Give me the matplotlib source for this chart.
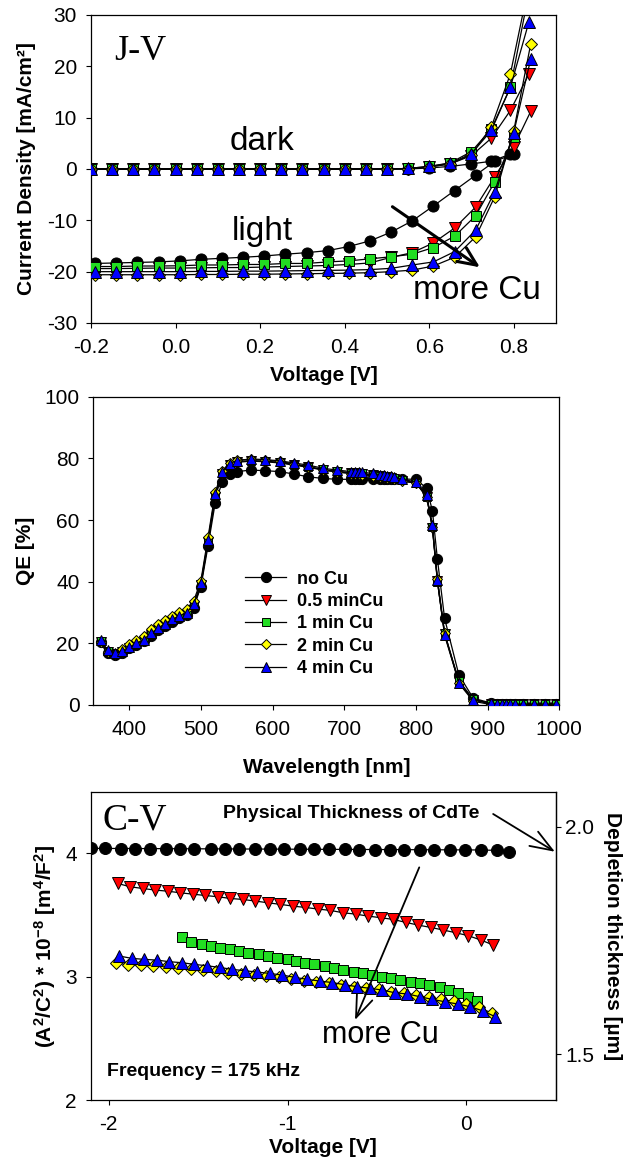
import numpy as np
import matplotlib
matplotlib.use('Agg')
import matplotlib.pyplot as plt

plt.rcParams['font.family'] = ['Liberation Sans', 'DejaVu Sans']
plt.rcParams['mathtext.fontset'] = 'custom'
plt.rcParams['mathtext.rm'] = 'Liberation Sans'
plt.rcParams['mathtext.bf'] = 'Liberation Sans:bold'
plt.rcParams['mathtext.it'] = 'Liberation Sans:italic'
plt.rcParams['axes.unicode_minus'] = False
plt.rcParams['axes.linewidth'] = 0.9

# sample series: no Cu, 0.5, 1, 2, 4 min Cu
labels = ['no Cu', '0.5 minCu', '1 min Cu', '2 min Cu', '4 min Cu']
markers = ['o', 'v', 's', 'D', '^']
colors = ['black', '#FF0000', '#22DD22', '#FFFF00', '#0000FF']
msizes = [8.0, 8.2, 6.7, 6.0, 8.2]

# ---- J-V data (dark and illuminated) ----
v_dark = [-0.20, -0.15, -0.10, -0.05, 0.00, 0.05, 0.10, 0.15, 0.20, 0.25, 0.30,
          0.35, 0.40, 0.45, 0.50, 0.55, 0.60, 0.65, 0.70, 0.747, 0.792, 0.836]
j_dark = [
    [0, 0, 0, 0, 0, 0, 0, 0, 0, 0, 0, 0, 0, 0, 0, 0, 0.2, 0.5, 1.0, 1.5, 2.9],
    [0, 0, 0, 0, 0, 0, 0, 0, 0, 0, 0, 0, 0, 0, 0, 0.05, 0.4, 1.0, 2.6, 6.0, 11.4, 18.5],
    [0, 0, 0, 0, 0, 0, 0, 0, 0, 0, 0, 0, 0, 0, 0, 0.1, 0.5, 1.2, 3.4, 7.8, 15.9, 34.4],
    [0, 0, 0, 0, 0, 0, 0, 0, 0, 0, 0, 0, 0, 0, 0, 0.05, 0.4, 1.0, 2.8, 8.2, 18.5, 36.0],
    [0, 0, 0, 0, 0, 0, 0, 0, 0, 0, 0, 0, 0, 0, 0, 0.1, 0.5, 1.1, 3.0, 7.5, 15.9, 28.7],
]
v_light = [-0.19, -0.14, -0.09, -0.04, 0.01, 0.06, 0.11, 0.16, 0.21, 0.26, 0.31,
           0.36, 0.41, 0.46, 0.51, 0.56, 0.61, 0.66, 0.71, 0.755, 0.80, 0.84]
j_light = [
    [-18.4, -18.3, -18.2, -18.1, -17.9, -17.6, -17.4, -17.2, -16.95, -16.6, -16.3,
     -15.9, -15.1, -14.0, -12.3, -10.1, -7.2, -4.2, -1.2, 1.5, 2.9],
    [-19.4, -19.4, -19.35, -19.3, -19.3, -19.25, -19.2, -19.2, -19.1, -19.0, -18.9,
     -18.8, -18.6, -18.3, -17.2, -16.3, -14.4, -11.5, -7.4, -1.5, 4.35, 11.2],
    [-19.0, -19.0, -18.9, -18.9, -18.85, -18.7, -18.7, -18.6, -18.6, -18.4, -18.4,
     -18.1, -17.9, -17.5, -17.1, -16.6, -15.3, -13.1, -9.1, -2.5, 6.3],
    [-20.6, -20.6, -20.6, -20.6, -20.6, -20.55, -20.55, -20.5, -20.5, -20.45, -20.4,
     -20.35, -20.3, -20.2, -20.0, -19.7, -18.9, -17.2, -13.2, -5.4, 7.46, 24.3],
    [-20.0, -20.0, -20.0, -20.0, -20.0, -19.95, -19.95, -19.9, -19.9, -19.85, -19.8,
     -19.75, -19.7, -19.6, -19.35, -18.7, -18.1, -16.1, -11.9, -4.4, 7.07, 21.4],
]

# ---- QE data ----
wavelength = [360, 370, 380, 390, 400, 410, 420, 430, 440, 450, 460, 470, 480, 490,
              500, 510, 520, 530, 540, 550, 570, 590, 610, 630, 650, 670, 690, 710,
              715, 720, 725, 740, 750, 755, 760, 765, 770, 780, 800, 815, 823, 830,
              840, 860, 880, 905, 913, 920, 926, 931, 938, 950, 965, 980, 995]
qe = [
    [20.3, 17.0, 16.2, 17.0, 18.4, 19.5, 20.6, 22.5, 24.2, 25.7, 27.0, 28.1, 29.1, 31.6,
     38.4, 51.6, 65.6, 72.4, 74.9, 75.7, 76.2, 76.0, 75.7, 74.9, 74.0, 73.5, 73.2, 73.2,
     73.2, 73.2, 73.2, 73.3, 73.4, 73.4, 73.4, 73.4, 73.4, 73.3, 73.2, 70.3, 63.0, 47.3,
     28.1, 9.7, 2.2, 0.6, 0.4, 0.3, 0.3, 0.3, 0.3, 0.3, 0.3, 0.3, 0.3],
    [20.4, 17.3, 16.5, 17.2, 18.5, 19.6, 20.8, 22.7, 24.4, 25.9, 27.3, 28.4, 29.4, 32.0,
     39.0, 52.8, 67.5, 75.0, 77.7, 78.7, 79.1, 78.9, 78.5, 77.8, 77.1, 76.2, 75.6, 75.2,
     75.1, 75.0, 74.9, 74.5, 74.2, 74.0, 73.8, 73.6, 73.3, 72.7, 72.0, 67.5, 57.4, 40.2,
     23.0, 7.5, 1.7, 0.3, 0.2, 0.2, 0.2, 0.2, 0.2, 0.2, 0.2, 0.2, 0.2],
    [20.6, 17.4, 16.6, 17.4, 18.7, 19.9, 21.0, 23.0, 24.7, 26.2, 27.6, 28.7, 29.7, 32.3,
     39.3, 53.0, 67.8, 75.2, 77.9, 78.9, 79.3, 79.1, 78.7, 78.0, 77.3, 76.4, 75.8, 75.4,
     75.3, 75.2, 75.1, 74.7, 74.4, 74.2, 74.0, 73.8, 73.5, 72.9, 72.1, 67.6, 57.6, 40.0,
     23.2, 7.8, 1.9, 0.4, 0.3, 0.2, 0.2, 0.2, 0.2, 0.2, 0.2, 0.2, 0.2],
    [20.5, 17.2, 16.5, 18.0, 19.8, 21.0, 22.5, 24.5, 26.2, 27.6, 29.0, 30.2, 31.2, 33.8,
     40.3, 54.5, 69.0, 76.0, 78.6, 79.4, 79.7, 79.4, 79.0, 78.2, 77.3, 76.3, 75.6, 75.0,
     74.9, 74.8, 74.6, 74.4, 74.1, 73.9, 73.7, 73.5, 73.2, 72.6, 72.0, 67.6, 57.8, 41.0,
     23.5, 7.0, 1.2, 0.1, -0.3, -0.3, -0.3, -0.3, -0.3, -0.3, -0.3, -0.3, -0.3],
    [21.0, 17.8, 16.8, 17.5, 18.8, 20.0, 21.2, 23.2, 24.9, 26.4, 27.8, 28.9, 29.9, 32.6,
     39.7, 53.5, 68.3, 75.6, 78.3, 79.3, 79.8, 79.6, 79.2, 78.5, 77.8, 76.8, 76.2, 75.7,
     75.7, 75.6, 75.5, 75.1, 74.7, 74.5, 74.3, 74.2, 73.9, 73.2, 72.4, 68.1, 58.3, 40.5,
     22.6, 7.2, 1.6, 0.5, 0.4, 0.3, 0.3, 0.3, 0.3, 0.3, 0.3, 0.3, 0.3],
]

# ---- C-V data, A^2/C^2 in 1e8 m^4/F^2 ----
cv_v = [
    [-2.10, -2.02, -1.93, -1.85, -1.77, -1.68, -1.60, -1.52, -1.43, -1.35, -1.27, -1.18,
     -1.10, -1.02, -0.93, -0.85, -0.77, -0.68, -0.60, -0.51, -0.43, -0.35, -0.26, -0.18,
     -0.09, -0.01, 0.08, 0.17, 0.24],
    [-1.95, -1.88, -1.81, -1.74, -1.67, -1.60, -1.53, -1.46, -1.39, -1.32, -1.25, -1.18,
     -1.11, -1.04, -0.97, -0.90, -0.83, -0.76, -0.69, -0.62, -0.55, -0.48, -0.41, -0.34,
     -0.27, -0.20, -0.13, -0.06, 0.01, 0.08, 0.15],
    [-1.59, -1.54, -1.48, -1.43, -1.38, -1.32, -1.27, -1.22, -1.16, -1.11, -1.06, -1.00,
     -0.95, -0.90, -0.85, -0.79, -0.74, -0.69, -0.63, -0.58, -0.53, -0.47, -0.42, -0.37,
     -0.31, -0.26, -0.21, -0.15, -0.10, -0.05, 0.01, 0.06],
    [-1.96, -1.89, -1.82, -1.75, -1.68, -1.61, -1.54, -1.47, -1.40, -1.33, -1.26, -1.19,
     -1.12, -1.05, -0.98, -0.91, -0.84, -0.77, -0.70, -0.63, -0.56, -0.49, -0.42, -0.35,
     -0.28, -0.21, -0.14, -0.07, 0.00, 0.07, 0.14],
    [-1.94, -1.87, -1.80, -1.73, -1.66, -1.59, -1.52, -1.45, -1.38, -1.31, -1.24, -1.17,
     -1.10, -1.03, -0.96, -0.89, -0.82, -0.75, -0.68, -0.61, -0.54, -0.47, -0.40, -0.33,
     -0.26, -0.19, -0.12, -0.05, 0.02, 0.09, 0.16],
]
cv_y = [
    [4.041, 4.041, 4.040, 4.040, 4.039, 4.039, 4.038, 4.038, 4.037, 4.037, 4.036, 4.036,
     4.035, 4.035, 4.034, 4.034, 4.033, 4.033, 4.032, 4.032, 4.031, 4.031, 4.030, 4.030,
     4.029, 4.029, 4.028, 4.025, 4.014],
    [3.757, 3.730, 3.716, 3.703, 3.694, 3.681, 3.670, 3.659, 3.649, 3.635, 3.627, 3.614,
     3.600, 3.587, 3.573, 3.562, 3.549, 3.538, 3.519, 3.508, 3.492, 3.479, 3.465, 3.441,
     3.419, 3.400, 3.379, 3.357, 3.333, 3.298, 3.257],
    [3.320, 3.284, 3.265, 3.249, 3.235, 3.228, 3.208, 3.195, 3.181, 3.168, 3.154, 3.141,
     3.127, 3.114, 3.100, 3.087, 3.073, 3.054, 3.041, 3.027, 3.014, 3.000, 2.987, 2.973,
     2.960, 2.946, 2.933, 2.914, 2.892, 2.865, 2.838, 2.803],
    [3.113, 3.097, 3.092, 3.088, 3.078, 3.073, 3.062, 3.054, 3.044, 3.031, 3.022, 3.014,
     3.006, 2.996, 2.980, 2.967, 2.955, 2.946, 2.935, 2.918, 2.908, 2.897, 2.877, 2.870,
     2.851, 2.832, 2.816, 2.800, 2.781, 2.751, 2.706],
    [3.168, 3.149, 3.141, 3.135, 3.122, 3.114, 3.100, 3.089, 3.076, 3.060, 3.049, 3.038,
     3.027, 3.014, 2.995, 2.979, 2.965, 2.953, 2.935, 2.919, 2.906, 2.892, 2.870, 2.860,
     2.838, 2.816, 2.797, 2.779, 2.757, 2.724, 2.676],
]

# depletion width W = eps * A / C  ->  W[um] = 0.974 * sqrt(A^2/C^2 [1e8])
k_eps = 0.974


def series(ax, x, y, i, scale=1.0):
    ax.plot(x, y, color='black', lw=0.9, marker=markers[i], ms=msizes[i] * scale,
            mfc=colors[i], mec='black', mew=0.7, zorder=3 + i, label=labels[i])


def style(ax):
    ax.tick_params(direction='out', length=3.5, width=0.8, labelsize=15,
                   top=False, right=False)
    ax.tick_params(axis='x', pad=7)
    ax.tick_params(axis='y', pad=6.5)


fig = plt.figure(figsize=(6.31, 11.61), dpi=100)

# J-V
ax1 = fig.add_axes([0.1442, 0.7218, 0.737, 0.2653])
for i in range(5):
    series(ax1, v_dark[:len(j_dark[i])], j_dark[i], i)
    series(ax1, v_light[:len(j_light[i])], j_light[i], i)
ax1.set_xlim(-0.2, 0.9)
ax1.set_ylim(-30, 30)
ax1.set_xticks([-0.2, 0.0, 0.2, 0.4, 0.6, 0.8])
ax1.set_xticklabels(['-0.2', '0.0', '0.2', '0.4', '0.6', '0.8'])
ax1.set_yticks([-30, -20, -10, 0, 10, 20, 30])
style(ax1)
ax1.set_xlabel('Voltage [V]', fontsize=15, fontweight='bold')
ax1.set_ylabel('Current Density [mA/cm²]', fontsize=15, fontweight='bold')
ax1.xaxis.set_label_coords(0.5, -0.14)
ax1.yaxis.set_label_coords(-0.118, 0.5)
ax1.text(-0.144, 21.2, 'J-V', family='Liberation Serif', fontsize=26)
ax1.text(0.129, 3.7, 'dark', fontsize=24)
ax1.text(0.133, -13.8, 'light', fontsize=24)
ax1.text(0.561, -25.4, 'more Cu', fontsize=24)
ax1.annotate('', xy=(0.720, -19.15), xytext=(0.513, -7.35),
             arrowprops=dict(arrowstyle='->,head_length=0.67,head_width=0.3',
                             lw=2.2, color='black', mutation_scale=20,
                             shrinkA=0, shrinkB=0), zorder=10)

# QE
ax2 = fig.add_axes([0.148, 0.3928, 0.7383, 0.2655])
for i in range(5):
    series(ax2, wavelength, qe[i], i, scale=0.92)
ax2.set_xlim(350, 1000)
ax2.set_ylim(0, 100)
ax2.set_xticks([400, 500, 600, 700, 800, 900, 1000])
ax2.set_yticks([0, 20, 40, 60, 80, 100])
style(ax2)
ax2.set_xlabel('Wavelength [nm]', fontsize=15, fontweight='bold')
ax2.set_ylabel('QE [%]', fontsize=15, fontweight='bold')
ax2.xaxis.set_label_coords(0.5, -0.172)
ax2.yaxis.set_label_coords(-0.125, 0.5)
ax2.legend(loc='upper left', bbox_to_anchor=(0.325, 0.436), frameon=False,
           prop={'size': 13, 'weight': 'bold'}, handlelength=2.3,
           handletextpad=0.6, labelspacing=0.3, borderpad=0, borderaxespad=0)

# C-V
ax3 = fig.add_axes([0.1437, 0.0525, 0.7374, 0.2655])
for i in range(5):
    series(ax3, cv_v[i], cv_y[i], i, scale=1.08)
ax3.set_xlim(-2.1, 0.5)
ax3.set_ylim(2, 4.5)
ax3.set_xticks([-2, -1, 0])
ax3.set_yticks([2, 3, 4])
style(ax3)
ax3.set_xlabel('Voltage [V]', fontsize=15, fontweight='bold')
ax3.set_ylabel(r'$\mathbf{(A^2/C^2)}$ * $\mathbf{10^{-8}}$ $\mathbf{[m^4/F^2]}$',
               fontsize=15, fontweight='bold')
ax3.xaxis.set_label_coords(0.5, -0.123)
ax3.yaxis.set_label_coords(-0.07, 0.5)

sec = ax3.secondary_yaxis('right', functions=(lambda y: k_eps * np.sqrt(np.clip(y, 0, None)),
                                              lambda w: (np.asarray(w) / k_eps) ** 2))
sec.set_yticks([1.5, 2.0])
sec.set_yticklabels(['1.5', '2.0'])
sec.tick_params(direction='out', length=3.5, width=0.8, labelsize=15, pad=3)
ax3.text(1.1225, 0.532, 'Depletion thickness [µm]', transform=ax3.transAxes,
         rotation=270, rotation_mode='anchor', ha='center', va='center',
         fontsize=15, fontweight='bold')

ax3.text(-2.032, 4.195, 'C-V', family='Liberation Serif', fontsize=27)
ax3.text(-1.363, 4.325, 'Physical Thickness of CdTe', fontsize=14, fontweight='bold',
         va='center')
ax3.text(-0.81, 2.46, 'more Cu', fontsize=22)
ax3.text(-2.01, 2.23, 'Frequency = 175 kHz', fontsize=14, fontweight='bold', va='center')
ax3.annotate('', xy=(0.494, 4.014), xytext=(0.149, 4.32), annotation_clip=False,
             arrowprops=dict(arrowstyle='->,head_length=0.8,head_width=0.3',
                             lw=1.3, color='black', mutation_scale=20,
                             shrinkA=0, shrinkB=0), zorder=10)
ax3.annotate('', xy=(-0.623, 2.649), xytext=(-0.264, 3.887),
             arrowprops=dict(arrowstyle='->,head_length=0.8,head_width=0.3',
                             lw=1.3, color='black', mutation_scale=20,
                             shrinkA=0, shrinkB=0), zorder=10)

fig.savefig('out.png', dpi=100)
